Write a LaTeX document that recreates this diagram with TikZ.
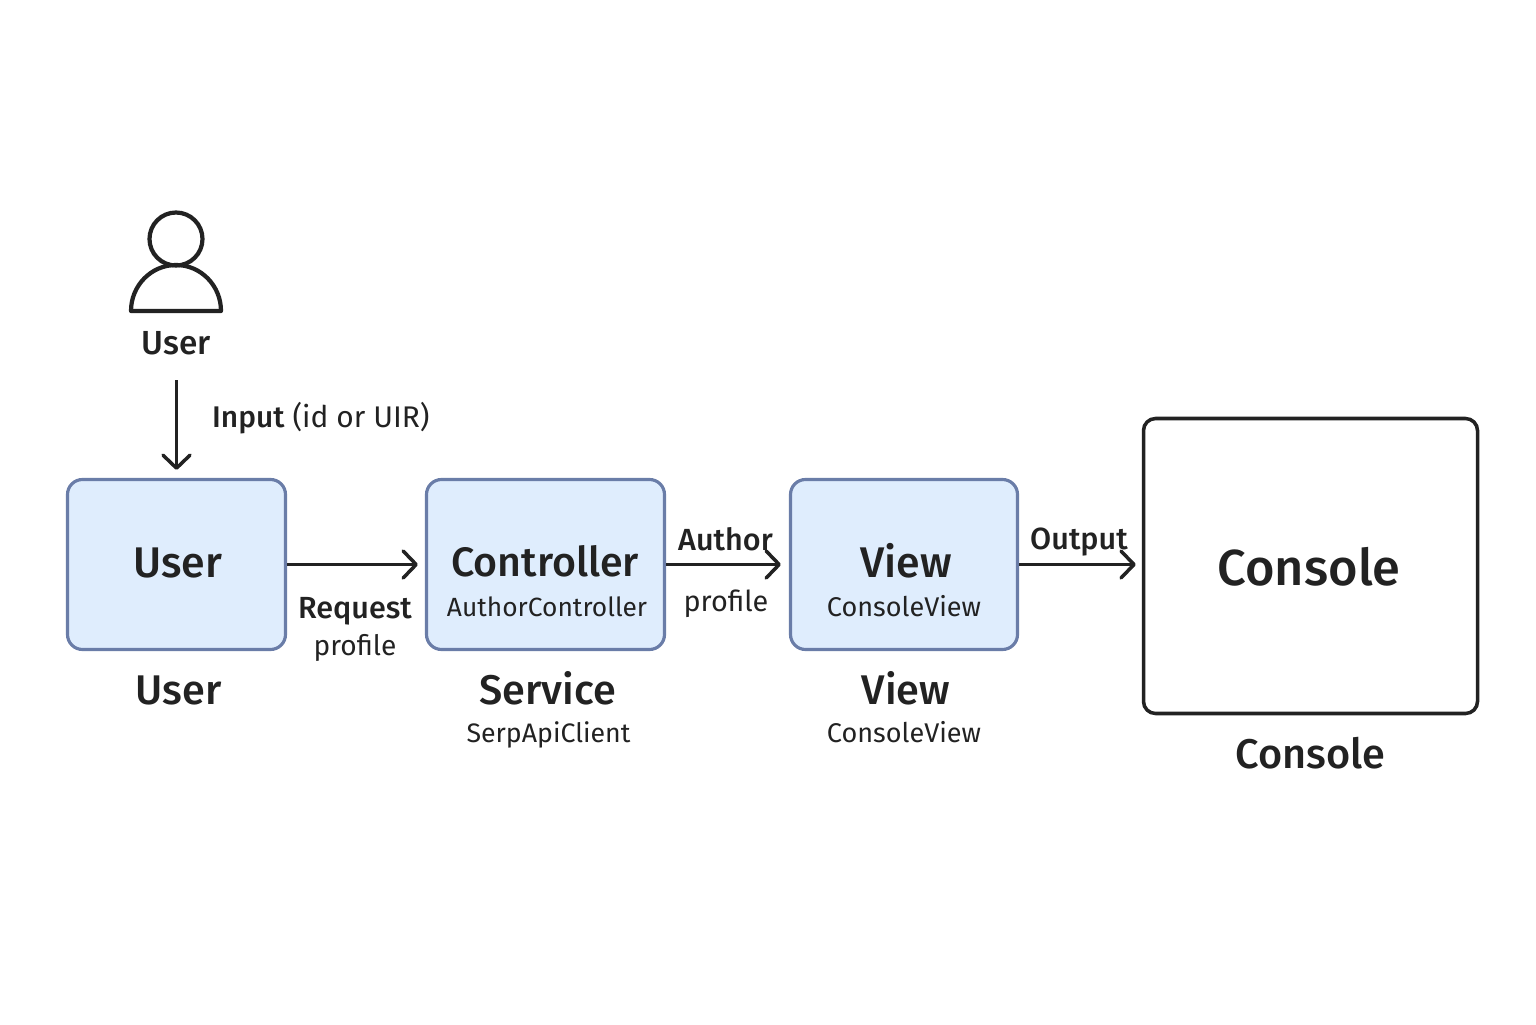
\documentclass[tikz,border=0pt]{standalone}
\usepackage{fontspec}
\setmainfont{Fira Sans}
\newfontfamily\medfont{Fira Sans Medium}
\usetikzlibrary{arrows.meta}
\definecolor{boxfill}{HTML}{DFEDFD}
\definecolor{boxline}{HTML}{6A7DA8}
\definecolor{inkline}{HTML}{222222}
\tikzset{
	compbox/.style={draw=boxline,fill=boxfill,line width=0.9pt,rounded corners=1.5mm,minimum height=1.70cm,inner sep=0pt},
	consolebox/.style={draw=inkline,fill=white,line width=1pt,rounded corners=1.2mm,minimum width=3.34cm,minimum height=2.95cm,inner sep=0pt},
	flow/.style={draw=inkline,line width=1pt,-{Straight Barb[length=1.3mm,width=2.7mm,line width=1pt,round]}},
	headtext/.style={text=inkline,font=\medfont\fontsize{12.2}{14}\selectfont,inner sep=0pt},
	captext/.style={text=inkline,font=\medfont\fontsize{11.8}{14}\selectfont,inner sep=0pt},
	subtext/.style={text=inkline,font=\fontsize{7.7}{9}\selectfont,inner sep=0pt},
	edgetext/.style={text=inkline,font=\medfont\fontsize{8.7}{10}\selectfont,inner sep=0pt},
	edgesub/.style={text=inkline,font=\fontsize{8.2}{10}\selectfont,inner sep=0pt}
}
\begin{document}
\begin{tikzpicture}
	\useasboundingbox (0,0) rectangle (15.36,10.24);
	% person
	\draw[inkline,line width=1.2pt] (1.76,7.85) circle (0.265);
	\draw[inkline,line width=1.2pt,line join=round] (1.31,7.13) arc (180:0:0.45 and 0.46) -- cycle;
	\node[edgetext,font=\medfont\fontsize{9.5}{11}\selectfont] at (1.765,6.81) (actor) {User};
	% boxes
	\node[compbox,minimum width=2.18cm] at (1.765,4.595) (user) {};
	\node[compbox,minimum width=2.38cm] at (5.455,4.595) (ctrl) {};
	\node[compbox,minimum width=2.27cm] at (9.04,4.595) (view) {};
	\node[consolebox] at (13.105,4.58) (console) {};
	% box texts
	\node[headtext] at (1.78,4.61) (usertxt) {User};
	\node[headtext,font=\medfont\fontsize{11.7}{14}\selectfont] at (5.45,4.63) (ctrltxt) {Controller};
	\node[subtext,font=\fontsize{7.5}{9}\selectfont] at (5.47,4.17) (ctrlsub) {AuthorController};
	\node[headtext] at (9.06,4.63) (viewtxt) {View};
	\node[subtext] at (9.04,4.18) (viewsub) {ConsoleView};
	\node[headtext,font=\medfont\fontsize{14.4}{17}\selectfont] at (13.09,4.57) (consoletxt) {Console};
	% captions
	\node[captext] at (1.785,3.34) (usercap) {User};
	\node[captext] at (5.475,3.36) (servicecap) {Service};
	\node[subtext,font=\fontsize{7.6}{9}\selectfont] at (5.485,2.89) (servicesub) {SerpApiClient};
	\node[captext] at (9.06,3.36) (viewcap) {View};
	\node[subtext] at (9.04,2.92) (viewcapsub) {ConsoleView};
	\node[captext] at (13.105,2.71) (consolecap) {Console};
	% connectors
	\draw[flow,shorten <=2.5mm,shorten >=0.8mm] (actor) -- (user);
	\draw[flow,shorten >=0.7mm] (user) -- (ctrl);
	\draw[flow,shorten >=0.8mm] (ctrl) -- (view);
	\draw[flow,shorten >=0.6mm] (view.east) -- (view.east -| console.west);
	% connector labels
	\node[anchor=west,inner sep=0pt,text=inkline,font=\fontsize{8.5}{10}\selectfont] at (2.115,6.06) (input) {{\medfont Input} (id or UIR)};
	\node[edgetext] at (3.55,4.13) (request) {Request};
	\node[edgesub,font=\fontsize{8}{10}\selectfont] at (3.55,3.76) (reqsub) {profile};
	\node[edgetext] at (7.255,4.85) (author) {Author};
	\node[edgesub] at (7.26,4.20) (authsub) {profile};
	\node[edgetext] at (10.79,4.82) (output) {Output};
\end{tikzpicture}
\end{document}
